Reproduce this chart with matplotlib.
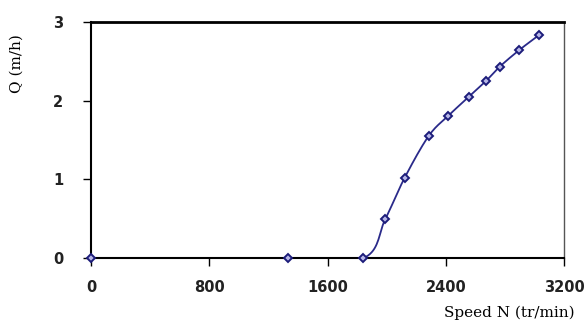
import numpy as np
import matplotlib.pyplot as plt

# speed (tr/min) and flow rate Q (m/h)
speed = [0, 1330, 1843, 1992, 2122, 2284, 2418, 2557, 2672, 2764, 2895, 3028]
flow = [0, 0, 0, 0.50, 1.02, 1.55, 1.81, 2.05, 2.25, 2.43, 2.64, 2.83]

x_ticks = [0, 800, 1600, 2400, 3200]
y_ticks = [0, 1, 2, 3]


def smooth(xs, ys, n=20):
    # Catmull-Rom curve through the points, like a smoothed spreadsheet line
    p = np.column_stack([xs, ys]).astype(float)
    p = np.vstack([p[0], p, p[-1]])
    out = []
    t = np.linspace(0, 1, n)[:, None]
    for i in range(1, len(p) - 2):
        p0, p1, p2, p3 = p[i - 1], p[i], p[i + 1], p[i + 2]
        seg = 0.5 * ((2 * p1) + (-p0 + p2) * t + (2 * p0 - 5 * p1 + 4 * p2 - p3) * t ** 2
                     + (-p0 + 3 * p1 - 3 * p2 + p3) * t ** 3)
        out.append(seg)
    out = np.vstack(out)
    return out[:, 0], out[:, 1]


fig = plt.figure(figsize=(5.85, 3.24), dpi=100)
ax = fig.add_axes([91 / 585, 1 - 258 / 324, 473 / 585, 236 / 324])

sx, sy = smooth(speed, flow)
ax.plot(sx, sy, color='#2a2a8a', lw=1.3)
ax.plot(speed, flow, ls='none', marker='D', ms=4.5, mfc='#b8b8e8', mec='#1c1c7a',
        mew=1.4, clip_on=False, zorder=5)

ax.set_xlim(0, 3200)
ax.set_ylim(0, 3)
ax.set_xticks(x_ticks)
ax.set_yticks(y_ticks)
ax.tick_params(axis='x', direction='out', length=6, width=1, pad=10, labelsize=10.5)
ax.tick_params(axis='y', direction='out', length=6, width=1, pad=14, labelsize=10.5)
for lab in ax.get_xticklabels() + ax.get_yticklabels():
    lab.set_fontweight('bold')
    lab.set_color('#222222')

ax.spines['top'].set_linewidth(2)
ax.spines['left'].set_linewidth(1.5)
ax.spines['bottom'].set_linewidth(1.5)
ax.spines['right'].set_linewidth(1)
ax.spines['right'].set_color('#555555')

fig.text(17 / 585, 1 - 64 / 324, 'Q (m/h)', rotation=90, ha='center', va='center',
         family='DejaVu Serif', fontsize=11)
fig.text(509 / 585, 1 - 313 / 324, 'Speed N (tr/min)', ha='center', va='center',
         family='DejaVu Serif', fontsize=11)

fig.savefig('out.png', dpi=100)
